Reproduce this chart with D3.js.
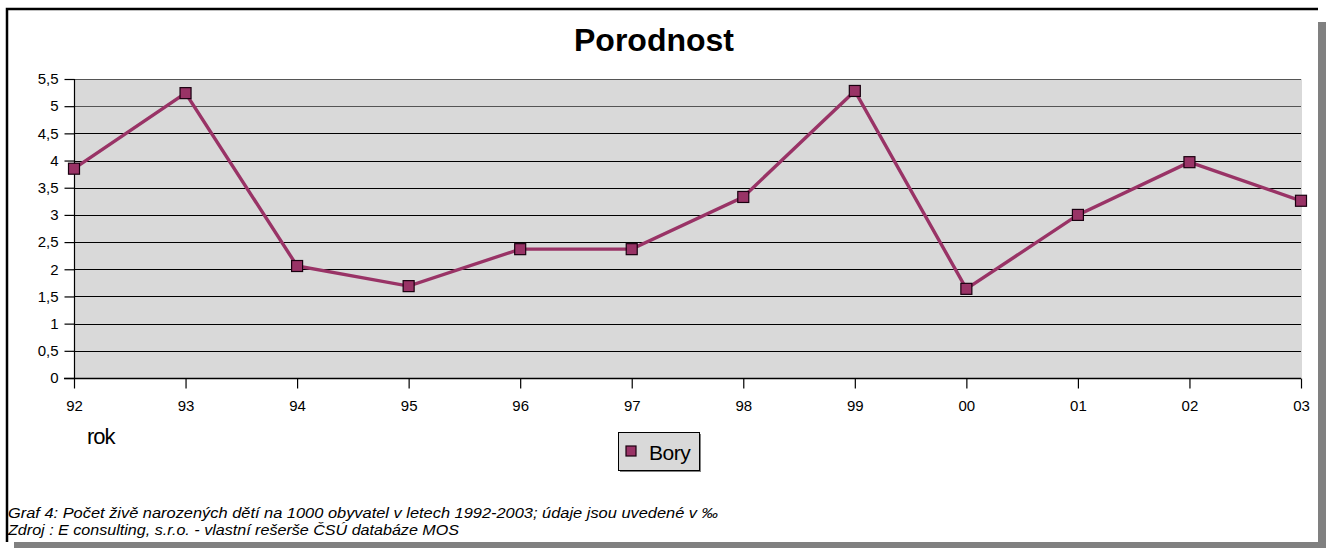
<!DOCTYPE html>
<html><head><meta charset="utf-8">
<script src="https://cdn.jsdelivr.net/npm/d3@7"></script>
<style>body{margin:0;background:#fff}svg{display:block}</style>
</head><body>
<script>
const years = ["92","93","94","95","96","97","98","99","00","01","02","03"];
const bory = [3.85,5.24,2.06,1.69,2.37,2.37,3.33,5.28,1.64,3.0,3.97,3.26];
const yTicks = [0,0.5,1,1.5,2,2.5,3,3.5,4,4.5,5,5.5];
const title = "Porodnost";
const seriesName = "Bory";
const axisTitle = "rok";
const notes = ["Graf 4: Počet živě narozených dětí na 1000 obyvatel v letech 1992-2003; údaje jsou uvedené v ‰",
               "Zdroj : E consulting, s.r.o. - vlastní rešerše ČSÚ databáze MOS"];

const W=1326,H=548;
const FONT="'Liberation Sans',Arial,sans-serif";
const svg=d3.select("body").append("svg").attr("width",W).attr("height",H)
  .style("font-family",FONT);

// shadow + frame (black top/left edge only)
svg.append("rect").attr("x",14).attr("y",22).attr("width",1312).attr("height",526).attr("fill","#808080");
svg.append("rect").attr("x",6).attr("y",8).attr("width",1312).attr("height",534).attr("fill","#fff");
svg.append("path").attr("d","M7,542V9H1318").attr("fill","none").attr("stroke","#000").attr("stroke-width",2.5);

const x=d3.scalePoint().domain(years).range([74,1301]);
const y=d3.scaleLinear().domain([0,5.5]).range([378,79]);

svg.append("rect").attr("x",74).attr("y",79).attr("width",1228).attr("height",299).attr("fill","#d9d9d9");

// gridlines
svg.append("g").selectAll("line").data(yTicks.filter(d=>d>0)).join("line")
  .attr("x1",74).attr("x2",1301).attr("y1",d=>Math.round(y(d))+0.5).attr("y2",d=>Math.round(y(d))+0.5)
  .attr("stroke",d=>d>=5?"#555":"#000").attr("stroke-width",1.2);

// y axis
const ya=svg.append("g").attr("transform","translate(74.5,0)")
  .call(d3.axisLeft(y).tickValues(yTicks).tickSize(10).tickPadding(6).tickFormat(d=>String(d).replace(".",",")));
ya.select(".domain").remove();
ya.selectAll("line").attr("stroke","#000").attr("stroke-width",1.2);
ya.selectAll("text").attr("font-size",15).attr("fill","#000").attr("font-family",FONT);
svg.append("line").attr("x1",74.5).attr("x2",74.5).attr("y1",79).attr("y2",378).attr("stroke","#000").attr("stroke-width",1.2);

// x axis
const xa=svg.append("g").attr("transform","translate(0,378.5)")
  .call(d3.axisBottom(x).tickSize(10).tickPadding(12));
xa.select(".domain").attr("d","M64,0H1301").attr("stroke","#000").attr("stroke-width",1.5);
xa.selectAll("line").attr("stroke","#000").attr("stroke-width",1.2);
xa.selectAll("text").attr("font-size",15).attr("fill","#000").attr("font-family",FONT);

// line
const pts=years.map((k,i)=>[x(k),y(bory[i])]);
svg.append("path").attr("d",d3.line()(pts)).attr("fill","none").attr("stroke","#993366").attr("stroke-width",3.4)
  .attr("stroke-linejoin","miter");
svg.append("g").selectAll("rect").data(pts).join("rect")
  .attr("x",d=>d[0]-5.5).attr("y",d=>d[1]-5.5).attr("width",11).attr("height",11)
  .attr("fill","#993366").attr("stroke","#1a0010").attr("stroke-width",1.2);

// title
svg.append("text").attr("x",654).attr("y",51).attr("text-anchor","middle").attr("font-size",32)
  .attr("font-weight","bold").text(title);

svg.append("text").attr("x",87).attr("y",444).attr("font-size",22).attr("letter-spacing",-1).text(axisTitle);

// legend
svg.append("rect").attr("x",620).attr("y",434).attr("width",81).attr("height",38).attr("fill","#808080");
svg.append("rect").attr("x",618.5).attr("y",432.5).attr("width",81).attr("height",38).attr("fill","#d9d9d9")
  .attr("stroke","#000").attr("stroke-width",1);
svg.append("rect").attr("x",626).attr("y",446).attr("width",10).attr("height",10).attr("fill","#993366")
  .attr("stroke","#1a0010").attr("stroke-width",1.2);
svg.append("text").attr("x",649).attr("y",460).attr("font-size",21).attr("letter-spacing",-0.5).text(seriesName);

// notes
svg.append("g").selectAll("text").data(notes).join("text")
  .attr("x",8).attr("y",(d,i)=>518+i*17).attr("font-size",14.5).attr("font-style","italic")
  .attr("textLength",(d,i)=>i===0?710:451).attr("lengthAdjust","spacingAndGlyphs").text(d=>d);
</script>
</body></html>
